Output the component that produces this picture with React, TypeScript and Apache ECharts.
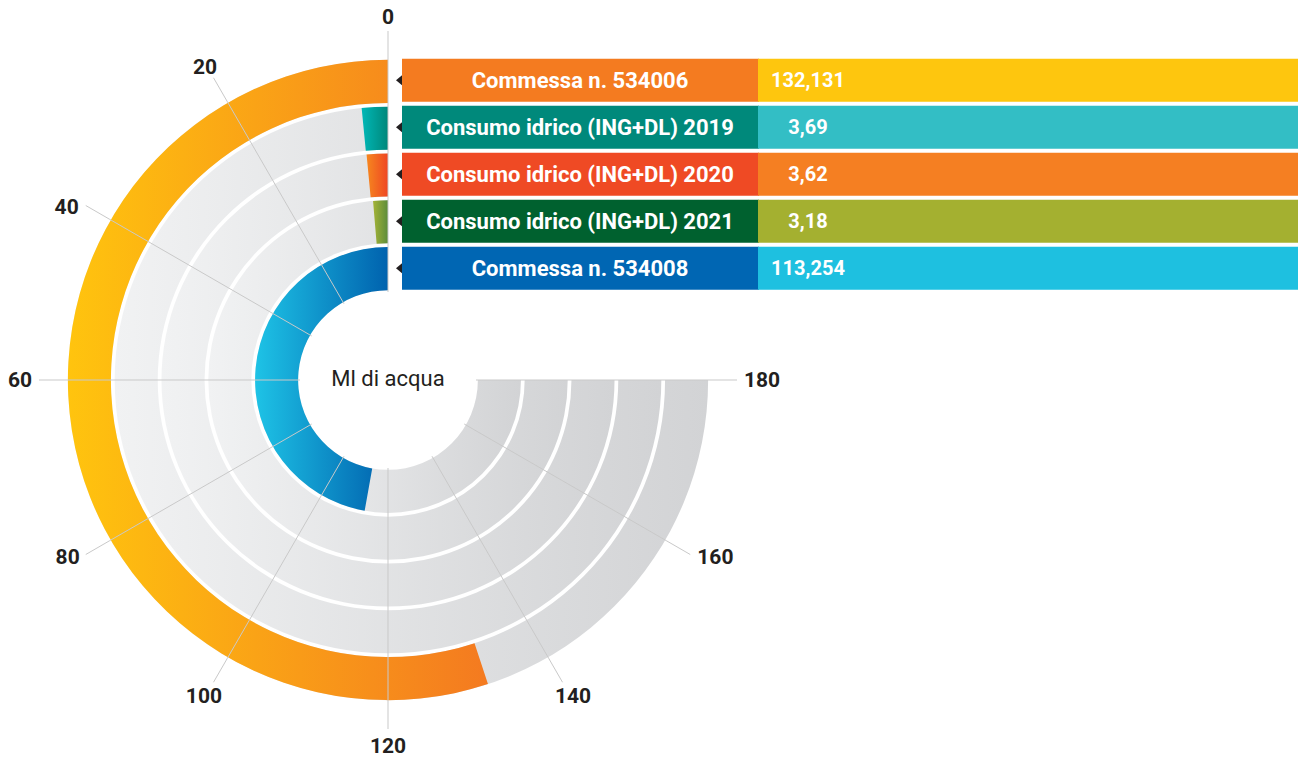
import React, { useEffect, useRef } from 'react';
import * as echarts from 'echarts';

// Rings, listed from the innermost to the outermost
const categories: string[] = [
  'Commessa n. 534008',
  'Consumo idrico (ING+DL) 2021',
  'Consumo idrico (ING+DL) 2020',
  'Consumo idrico (ING+DL) 2019',
  'Commessa n. 534006',
];
const values: number[] = [113.254, 3.18, 3.62, 3.69, 132.131];

const tickValues: number[] = [0, 20, 40, 60, 80, 100, 120, 140, 160, 180];
const scaleMax = 180;
const fullTurn = 240;
const centerLabel = 'Ml di acqua';

// colours (inner → outer)
const ringGradients: string[][] = [
  ['#1EC3E6', '#0062AE'],
  ['#A4B336', '#5C8C3A'],
  ['#F6871F', '#EF4623'],
  ['#00B8B7', '#00877A'],
  ['#FFC40E', '#F47A20'],
];
const labelCellColors: string[] = ['#0066B3', '#00612F', '#EF4A24', '#00897B', '#F47B20'];
const valueCellColors: string[] = ['#1EC0E0', '#A4B030', '#F57F22', '#33BEC5', '#FEC60E'];
const grayStops: string[] = ['#F1F2F3', '#D2D3D5'];

const lin = (a: string, b: string) => ({
  type: 'linear',
  x: 0,
  y: 0,
  x2: 1,
  y2: 0,
  colorStops: [
    { offset: 0, color: a },
    { offset: 1, color: b },
  ],
});

const fmt = (v: number) => String(v).replace('.', ',');

// small per-label nudges [dx, dy] of the angle-axis labels (layout only)
const labelNudge: Record<number, [number, number]> = {
  0: [0, 3],
  20: [7, 6],
  40: [-1, 15],
  60: [0, 0],
  80: [0, -12],
  100: [12, -3],
  120: [0, -1],
  140: [-11, -3],
  160: [1, -12],
  180: [0, 0],
};

export default function App() {
  const ref = useRef<HTMLDivElement>(null);

  useEffect(() => {
    if (!ref.current) return;
    const chart = echarts.init(ref.current, undefined, { renderer: 'svg' });

    const cx = 388;
    const cy = 380;

    // legend table, top row = outermost ring
    const rowTop0 = 58.7;
    const rowPitch = 47;
    const rowH = 43;
    const table: any[] = [];
    const order = categories.map((_, i) => categories.length - 1 - i);
    order.forEach((idx, r) => {
      const top = rowTop0 + r * rowPitch;
      table.push({
        type: 'rect',
        shape: { x: 402, y: top, width: 357, height: rowH },
        style: { fill: labelCellColors[idx] },
      });
      table.push({
        type: 'rect',
        shape: { x: 758, y: top, width: 540, height: rowH },
        style: { fill: valueCellColors[idx] },
      });
      table.push({
        type: 'polygon',
        shape: {
          points: [
            [396, top + rowH / 2],
            [402, top + rowH / 2 - 5],
            [402, top + rowH / 2 + 5],
          ],
        },
        style: { fill: '#231F20' },
      });
      table.push({
        type: 'text',
        x: 580,
        y: top + rowH / 2,
        style: {
          text: categories[idx],
          fill: '#FFFFFF',
          font: 'bold 22px Roboto',
          align: 'center',
          verticalAlign: 'middle',
        },
      });
      table.push({
        type: 'text',
        x: 808,
        y: top + rowH / 2,
        style: {
          text: fmt(values[idx]),
          fill: '#FFFFFF',
          font: 'bold 20px Roboto',
          align: 'center',
          verticalAlign: 'middle',
        },
      });
    });

    const splitColors: string[] = [];
    for (let v = 0; v <= fullTurn; v += 20) {
      splitColors.push(v <= scaleMax ? '#C9C9C9' : 'rgba(0,0,0,0)');
    }

    const rich: Record<string, any> = {};
    tickValues.forEach((t) => {
      const [dx, dy] = labelNudge[t] || [0, 0];
      rich['t' + t] = {
        color: '#231F20',
        fontSize: 21,
        fontWeight: 'bold',
        fontFamily: 'Roboto',
        padding: [dy, -dx, -dy, dx],
      };
    });

    chart.setOption({
      animation: false,
      textStyle: { fontFamily: 'Roboto' },
      polar: { center: [cx, cy], radius: [88, 322] },
      angleAxis: {
        type: 'value',
        min: 0,
        max: fullTurn,
        interval: 20,
        startAngle: 90,
        clockwise: false,
        z: 10,
        axisLine: { show: false },
        axisTick: {
          show: true,
          length: 27,
          customValues: tickValues,
          lineStyle: { color: '#C9C9C9', width: 1 },
        },
        splitLine: { show: true, lineStyle: { color: splitColors, width: 1 } },
        axisLabel: {
          customValues: tickValues,
          margin: 34,
          color: '#231F20',
          fontSize: 21,
          fontWeight: 'bold',
          fontFamily: 'Roboto',
          formatter: (v: number) => `{t${v}|${v}}`,
          rich,
        },
      },
      radiusAxis: {
        type: 'category',
        data: categories,
        axisLine: { show: false },
        axisTick: { show: false },
        axisLabel: { show: false },
        splitLine: { show: false },
      },
      series: [
        {
          type: 'bar',
          coordinateSystem: 'polar',
          data: categories.map(() => scaleMax),
          barGap: '-100%',
          barCategoryGap: '8%',
          silent: true,
          itemStyle: { color: lin(grayStops[0], grayStops[1]) },
          z: 1,
        },
        {
          type: 'bar',
          coordinateSystem: 'polar',
          data: values.map((v, i) => ({
            value: v,
            itemStyle: { color: lin(ringGradients[i][0], ringGradients[i][1]) },
          })),
          barGap: '-100%',
          barCategoryGap: '8%',
          z: 2,
        },
      ],
      graphic: [
        {
          type: 'text',
          x: cx,
          y: 378,
          style: {
            text: centerLabel,
            fill: '#231F20',
            font: '22px Roboto',
            align: 'center',
            verticalAlign: 'middle',
          },
        },
        ...table,
      ],
    });

    return () => chart.dispose();
  }, []);

  return (
    <div
      ref={ref}
      style={{ position: 'absolute', left: 0, top: 0, width: 1298, height: 757, background: '#FFFFFF' }}
    />
  );
}
